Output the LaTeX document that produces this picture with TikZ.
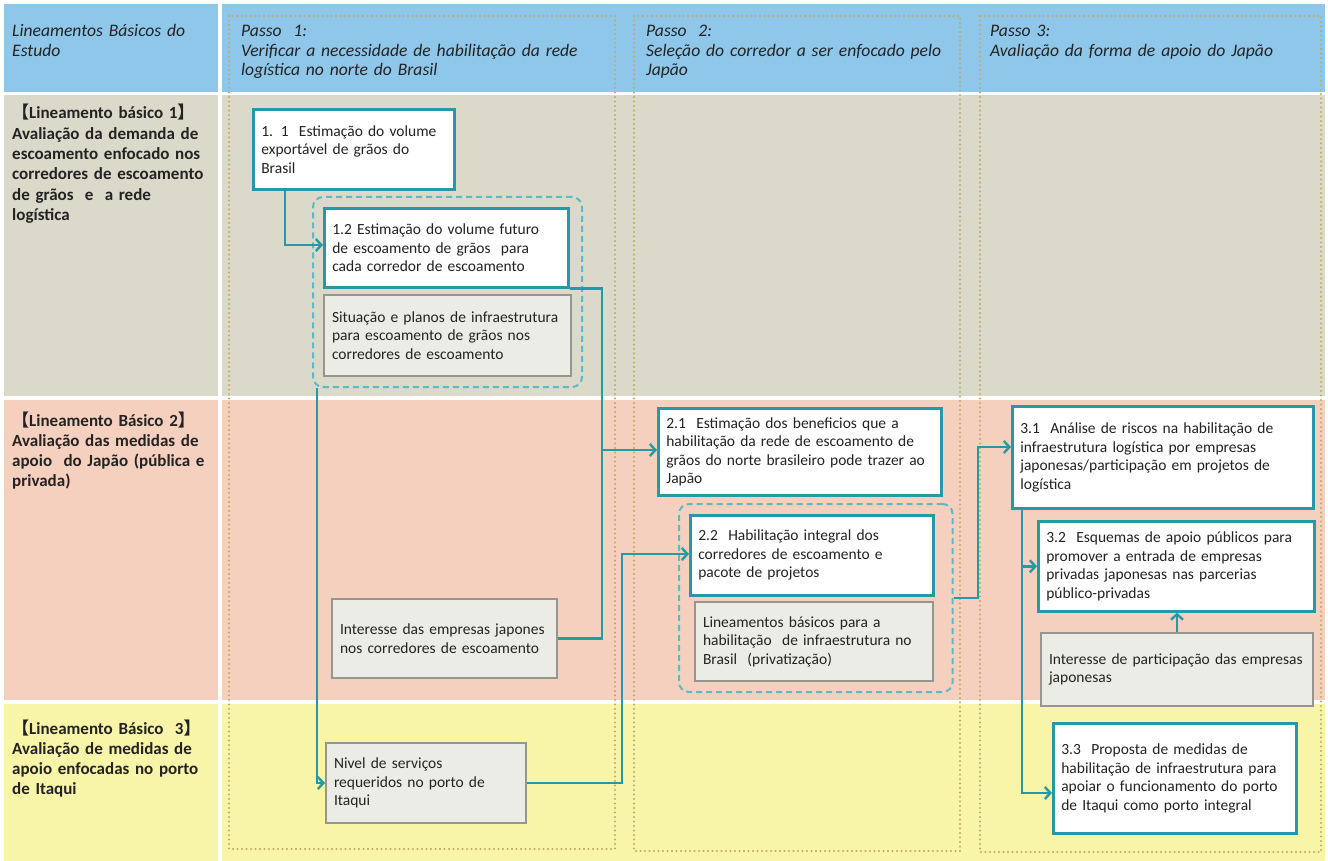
\documentclass[tikz,border=0pt]{standalone}
\usepackage{fontspec}
\setmainfont{Carlito}
\newfontfamily\cjk{Noto Sans CJK JP}
\usetikzlibrary{arrows.meta,fit,positioning}

\definecolor{hdrblue}{RGB}{143,199,234}
\definecolor{rowgrey}{RGB}{219,217,201}
\definecolor{rowsalmon}{RGB}{246,208,190}
\definecolor{rowyellow}{RGB}{248,244,168}
\definecolor{tealline}{RGB}{38,153,166}
\definecolor{dashcyan}{RGB}{92,186,200}
\definecolor{boxgrey}{RGB}{236,236,231}
\definecolor{edgegrey}{RGB}{150,150,144}
\definecolor{dotbrown}{RGB}{192,170,100}
\definecolor{inkdark}{RGB}{35,35,35}

\begin{document}
\begin{tikzpicture}[x=1pt,y=-1pt,>={Straight Barb[length=5.5pt,width=12pt]},
    stage box/.style={draw=tealline,line width=2.6pt,fill=white,align=left,inner xsep=8pt,inner ysep=0pt,text=inkdark,font=\fontsize{15.5}{18.5}\selectfont,anchor=north west},
    info box/.style={stage box,draw=edgegrey,line width=2pt,fill=boxgrey},
    group box/.style={draw=dashcyan,line width=2pt,dash pattern=on 6pt off 4pt,rounded corners=10pt,inner sep=10pt},
    column frame/.style={draw=dotbrown,line width=2.2pt,line cap=round,dash pattern=on 0pt off 4.5pt},
    flow/.style={draw=tealline,line width=2.4pt},
    head text/.style={anchor=base west,inner sep=0pt,align=left,text=inkdark,font=\fontsize{17.6}{19.5}\selectfont\itshape},
    row text/.style={anchor=base west,inner sep=0pt,align=left,text=inkdark,text width=206pt,font=\fontsize{17}{20.3}\selectfont\bfseries}]

    \useasboundingbox (0,0) rectangle (1328,861);

    % bands
    \fill[hdrblue] (4,4) rectangle (218,92);
    \fill[hdrblue] (222,4) rectangle (1325,92);
    \fill[rowgrey] (4,95) rectangle (218,396);
    \fill[rowgrey] (222,95) rectangle (1325,396);
    \fill[rowsalmon] (4,400) rectangle (218,700);
    \fill[rowsalmon] (222,400) rectangle (1325,700);
    \fill[rowyellow] (4,704) rectangle (218,861);
    \fill[rowyellow] (222,704) rectangle (1325,861);

    % columns of the steps
    \draw[column frame] (229,16) rectangle (615,849);
    \draw[column frame] (634,16) rectangle (960,851);
    \draw[column frame] (980,16) rectangle (1321,852);

    \node[head text, text width=200pt] (hdr0) at (12,37) {Lineamentos Básicos do\\Estudo};
    \node[head text, text width=370pt] (hdr1) at (241,37) {Passo~ 1:\\Verificar a necessidade de habilitação da rede\\logística no norte do Brasil};
    \node[head text, text width=305pt] (hdr2) at (646,37) {Passo~ 2:\\Seleção do corredor a ser enfocado pelo\\Japão};
    \node[head text, text width=320pt] (hdr3) at (990,37) {Passo 3:\\Avaliação da forma de apoio do Japão};

    \node[row text] (lin1) at (12,119) {{\cjk 【}Lineamento básico 1{\cjk 】}\\Avaliação da demanda de\\escoamento enfocado nos\\corredores de escoamento\\de grãos~ e~ a rede\\logística};
    \node[row text] (lin2) at (12,426) {{\cjk 【}Lineamento Básico 2{\cjk 】}\\Avaliação das medidas de\\apoio~ do Japão (pública e\\privada)};
    \node[row text] (lin3) at (12,734) {{\cjk 【}Lineamento Básico~ 3{\cjk 】}\\Avaliação de medidas de\\apoio enfocadas no porto\\de Itaqui};

    % step 1
    \node[stage box, minimum width=201pt, minimum height=80pt, text width=185pt] (est11) at (252,108) {1. 1~ Estimação do volume\\exportável de grãos do\\Brasil};
    \node[stage box, minimum width=244pt, minimum height=79pt, text width=228pt] (est12) at (323,207) {1.2 Estimação do volume futuro\\de escoamento de grãos~ para\\cada corredor de escoamento};
    \node[info box, minimum width=247pt, minimum height=81pt, text width=231pt] (infra1) at (323,294) {Situação e planos de infraestrutura\\para escoamento de grãos nos\\corredores de escoamento};
    \node[info box, minimum width=225pt, minimum height=79pt, text width=209pt] (jpint) at (331,598) {Interesse das empresas japones\\nos corredores de escoamento};
    \node[info box, minimum width=200pt, minimum height=80pt, text width=184pt] (port) at (325,742) {Nivel de serviços\\requeridos no porto de\\Itaqui};

    % step 2
    \node[stage box, minimum width=283pt, minimum height=87pt, text width=267pt] (est21) at (657,407) {2.1~ Estimação dos beneficios que a\\habilitação da rede de escoamento de\\grãos do norte brasileiro pode trazer ao\\Japão};
    \node[stage box, minimum width=243pt, minimum height=80pt, text width=227pt] (est22) at (689,514) {2.2~ Habilitação integral dos\\corredores de escoamento e\\pacote de projetos};
    \node[info box, minimum width=238pt, minimum height=79pt, text width=222pt] (base22) at (694,601) {Lineamentos básicos para a\\habilitação~ de infraestrutura no\\Brasil~ (privatização)};

    % step 3
    \node[stage box, minimum width=301pt, minimum height=102pt, text width=285pt] (est31) at (1011,405) {3.1~ Análise de riscos na habilitação de\\infraestrutura logística por empresas\\japonesas/participação em projetos de\\logística};
    \node[stage box, minimum width=276pt, minimum height=90pt, text width=260pt] (est32) at (1037,520) {3.2~ Esquemas de apoio públicos para\\promover a entrada de empresas\\privadas japonesas nas parcerias\\público-privadas};
    \node[info box, minimum width=272pt, minimum height=73pt, text width=256pt] (ipart) at (1040,632) {Interesse de participação das empresas\\japonesas};
    \node[stage box, minimum width=243pt, minimum height=110pt, text width=227pt] (est33) at (1052,722) {3.3~ Proposta de medidas de\\habilitação de infraestrutura para\\apoiar o funcionamento do porto\\de Itaqui como porto integral};

    \node[group box, fit=(est12)(infra1)] (grp1) {};
    \node[group box, fit=(est22)(base22), inner xsep=14pt, xshift=4pt] (grp2) {};

    % connectors
    \coordinate (bus0) at (285,245);
    \coordinate (bus1) at (602,450);
    \coordinate (bus2) at (622,554);
    \coordinate (bus3) at (978,447);
    \coordinate (bus4) at (1022,793);
    \coordinate (bus5) at (317,783);

    \draw[flow,->] (bus0 |- est11.south) -- (bus0) -- (bus0 -| est12.west);
    \draw[flow,->] (est12.south east) -| (bus1) -- (bus1 -| est21.west);
    \draw[flow] (jpint.east) -| (bus1);
    \draw[flow,->] (bus5 |- grp1.south) -- (bus5) -- (bus5 -| port.west);
    \draw[flow,->] (port.east) -| (bus2) -- (bus2 -| est22.west);
    \draw[flow,->] (grp2.east) -| (bus3) -- (bus3 -| est31.west);
    \draw[flow,->] (bus4 |- est31.south) -- (bus4) -- (bus4 -| est33.west);
    \draw[flow,->] (bus4 |- est32.west) -- (est32.west);
    \draw[flow,->] (ipart.north) -- (ipart.north |- est32.south);
\end{tikzpicture}
\end{document}
